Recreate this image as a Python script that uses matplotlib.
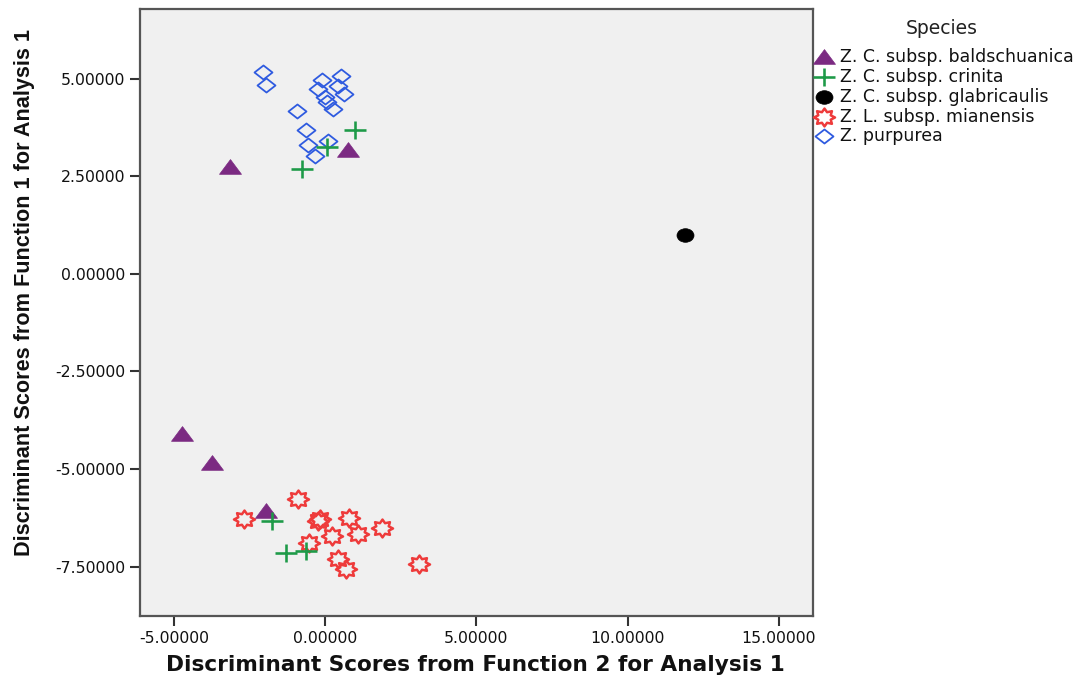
import numpy as np
import matplotlib
matplotlib.use("Agg")
import matplotlib.pyplot as plt
from matplotlib.path import Path
from matplotlib.lines import Line2D

plt.rcParams['axes.unicode_minus'] = False
plt.rcParams['font.family'] = ['DejaVu Sans']

# ---------------- data ----------------
species = ["Z. C. subsp. baldschuanica", "Z. C. subsp. crinita",
           "Z. C. subsp. glabricaulis", "Z. L. subsp. mianensis", "Z. purpurea"]

bald_x = [-3.14, 0.77, -4.72, -3.75, -1.96]
bald_y = [2.73, 3.16, -4.09, -4.85, -6.07]

crin_x = [0.99, 0.06, -0.77, -1.76, -1.30, -0.64]
crin_y = [3.67, 3.25, 2.69, -6.34, -7.14, -7.09]

glab_x = [11.90]
glab_y = [0.99]

mian_x = [-0.88, -2.67, -0.17, -0.23, 0.80, 1.89, 0.22, 1.10, -0.52, 0.44, 0.68, 3.09]
mian_y = [-5.77, -6.28, -6.28, -6.33, -6.26, -6.51, -6.71, -6.67, -6.88, -7.31, -7.56, -7.44]

purp_x = [-2.07, -1.94, -0.09, 0.51, -0.22, 0.41, 0.63, -0.02, 0.06, 0.25, -0.93, -0.62, -0.55, 0.08, -0.34]
purp_y = [5.16, 4.84, 4.96, 5.06, 4.72, 4.82, 4.60, 4.53, 4.40, 4.21, 4.16, 3.67, 3.30, 3.40, 3.01]

xticks = [-5, 0, 5, 10, 15]
yticks = [5, 2.5, 0, -2.5, -5, -7.5]

# ---------------- marker shapes ----------------
tri = Path([(-1, -0.62), (1, -0.62), (0, 0.72), (-1, -0.62)], closed=True)
diamond = Path([(0, 0.78), (1, 0), (0, -0.78), (-1, 0), (0, 0.78)], closed=True)
plus = Path([(-1, 0), (1, 0), (0, -0.78), (0, 0.78)],
            [Path.MOVETO, Path.LINETO, Path.MOVETO, Path.LINETO])
circ = Path.unit_circle()
ellipse = Path(circ.vertices * np.array([1.0, 0.8]), circ.codes)
ang = np.linspace(0, 2 * np.pi, 17)[:-1] + np.pi / 2
rad = np.where(np.arange(16) % 2 == 0, 1.0, 0.64)
sv = np.column_stack([rad * np.cos(ang), rad * np.sin(ang) * 0.85])
sv = np.vstack([sv, sv[:1]])
star = Path(sv, closed=True)

PX = 72 / 100.0  # points per pixel

styles = [
    dict(marker=tri, ms=22 * PX, mfc='#7B2A82', mec='#7B2A82', mew=0.5),
    dict(marker=plus, ms=22 * PX, mfc='none', mec='#1E9A48', mew=2.6 * PX),
    dict(marker=ellipse, ms=17 * PX, mfc='black', mec='black', mew=0.5),
    dict(marker=star, ms=21 * PX, mfc='none', mec='#EE3B3B', mew=2.5 * PX),
    dict(marker=diamond, ms=18 * PX, mfc='none', mec='#2F5BE0', mew=1.8 * PX),
]
series = [(bald_x, bald_y), (crin_x, crin_y), (glab_x, glab_y),
          (mian_x, mian_y), (purp_x, purp_y)]
order = [4, 3, 0, 1, 2]

# ---------------- figure ----------------
W, H = 1077, 682
fig = plt.figure(figsize=(W / 100, H / 100), dpi=100)
fig.patch.set_facecolor('white')
L, R, T, B = 140, 812.7, 9, 616
ax = fig.add_axes([L / W, 1 - B / H, (R - L) / W, (B - T) / H])
ax.set_facecolor('#F0F0F0')

for i in order:
    x, y = series[i]
    ax.plot(x, y, linestyle='none', **styles[i])

ax.set_xlim(-6.12, 16.12)
ax.set_ylim(-8.76, 6.78)
ax.set_xticks(xticks)
ax.set_yticks(yticks)
ax.set_xticklabels(["%.5f" % v for v in xticks])
ax.set_yticklabels(["%.5f" % v for v in yticks])
ax.tick_params(axis='both', direction='out', length=7.5, width=1.5,
               color='#333333', labelsize=11.3, labelcolor='#111111', pad=3)
for s in ax.spines.values():
    s.set_color('#555555')
    s.set_linewidth(1.6)

# axis labels
fig.text(475 / W, 1 - 665 / H, "Discriminant Scores from Function 2 for Analysis 1",
         ha='center', va='center', fontsize=15.6, fontweight='bold', color='#111111')
fig.text(25 / W, 1 - 292 / H, "Discriminant Scores from Function 1 for Analysis 1",
         ha='center', va='center', rotation=90, fontsize=15.6, fontweight='bold',
         color='#111111', family=['Liberation Sans'])

# legend (drawn manually)
fig.text(942 / W, 1 - 28 / H, "Species", ha='center', va='center',
         fontsize=13.5, color='#222222')
rows = [56.7, 77.2, 97.0, 116.7, 136.2]
for i, yy in enumerate(rows):
    fig.add_artist(Line2D([824 / W], [1 - yy / H], transform=fig.transFigure,
                          linestyle='none', **styles[i]))
    fig.text(840 / W, 1 - yy / H, species[i], ha='left', va='center',
             fontsize=12.5, color='#111111')

fig.savefig("out.png", dpi=100)
